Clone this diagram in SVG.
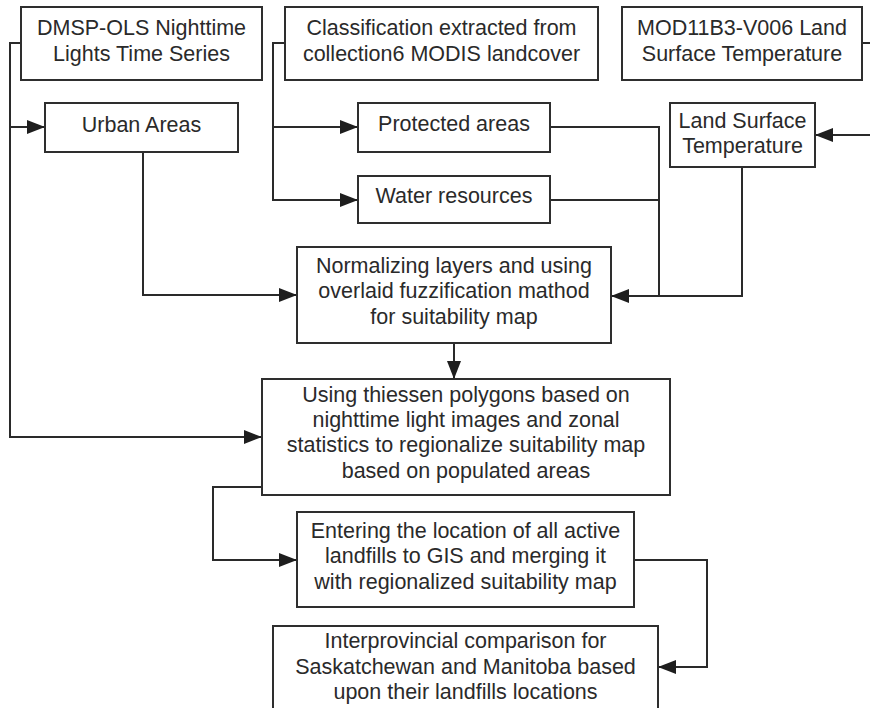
<svg xmlns="http://www.w3.org/2000/svg" width="870" height="708" viewBox="0 0 870 708">
  <style>
    .box { fill: #ffffff; stroke: #2e2e2e; stroke-width: 2; }
    .lbl { font-family: "Liberation Sans", Arial, sans-serif; font-size: 21.5px; fill: #2a2a2a; text-anchor: middle; }
    .wire { fill: none; stroke: #2a2a2a; stroke-width: 2; }
    .arrow { marker-end: url(#head); }
  </style>
  <defs>
    <marker id="head" markerUnits="userSpaceOnUse" markerWidth="18" markerHeight="14" refX="18" refY="7" orient="auto">
      <path d="M0,0 L18,7 L0,14 Z" fill="#1e1e1e"/>
    </marker>
  </defs>
  <rect width="870" height="708" fill="#ffffff"/>

  <!-- connectors -->
  <g id="connectors">
    <path class="wire arrow" d="M21,43 H10 V437 H262"/>
    <path class="wire arrow" d="M10,127 H45"/>
    <path class="wire arrow" d="M285,43 H273 V200 H358"/>
    <path class="wire arrow" d="M273,127 H358"/>
    <path class="wire" d="M862,43 H872"/>
    <path class="wire arrow" d="M872,135 H815"/>
    <path class="wire arrow" d="M143,152 V295 H297"/>
    <path class="wire arrow" d="M550,127 H659 V296 H611"/>
    <path class="wire" d="M550,200 H659"/>
    <path class="wire" d="M742,167 V296 H659"/>
    <path class="wire arrow" d="M454,343 V379"/>
    <path class="wire arrow" d="M262,487 H213 V560 H297"/>
    <path class="wire arrow" d="M634,560 H707 V667 H658"/>
  </g>

  <!-- source datasets -->
  <g id="dmsp-ols">
    <rect class="box" x="21" y="7" width="241" height="73"/>
    <text class="lbl" x="141.5" y="35">DMSP-OLS Nighttime</text>
    <text class="lbl" x="141.5" y="61">Lights Time Series</text>
  </g>
  <g id="modis-landcover">
    <rect class="box" x="285" y="7" width="313" height="73"/>
    <text class="lbl" x="441.5" y="35">Classification extracted from</text>
    <text class="lbl" x="441.5" y="61">collection6 MODIS landcover</text>
  </g>
  <g id="mod11b3">
    <rect class="box" x="622" y="7" width="240" height="73"/>
    <text class="lbl" x="742" y="35">MOD11B3-V006 Land</text>
    <text class="lbl" x="742" y="61">Surface Temperature</text>
  </g>

  <!-- derived layers -->
  <g id="urban-areas">
    <rect class="box" x="45" y="103" width="193" height="49"/>
    <text class="lbl" x="141.5" y="132">Urban Areas</text>
  </g>
  <g id="protected-areas">
    <rect class="box" x="358" y="103" width="192" height="49"/>
    <text class="lbl" x="454" y="131">Protected areas</text>
  </g>
  <g id="water-resources">
    <rect class="box" x="358" y="176" width="192" height="47"/>
    <text class="lbl" x="454" y="203">Water resources</text>
  </g>
  <g id="land-surface-temperature">
    <rect class="box" x="670" y="103" width="145" height="64"/>
    <text class="lbl" x="742.5" y="128">Land Surface</text>
    <text class="lbl" x="742.5" y="153">Temperature</text>
  </g>

  <!-- processing steps -->
  <g id="normalizing">
    <rect class="box" x="297" y="247" width="314" height="96"/>
    <text class="lbl" x="454" y="273">Normalizing layers and using</text>
    <text class="lbl" x="454" y="298">overlaid fuzzification mathod</text>
    <text class="lbl" x="454" y="324">for suitability map</text>
  </g>
  <g id="thiessen">
    <rect class="box" x="262" y="379" width="408" height="116"/>
    <text class="lbl" x="466" y="402">Using thiessen polygons based on</text>
    <text class="lbl" x="466" y="427">nighttime light images and zonal</text>
    <text class="lbl" x="466" y="452">statistics to regionalize suitability map</text>
    <text class="lbl" x="466" y="478">based on populated areas</text>
  </g>
  <g id="landfills-gis">
    <rect class="box" x="297" y="512" width="337" height="95"/>
    <text class="lbl" x="465.5" y="538">Entering the location of all active</text>
    <text class="lbl" x="465.5" y="563">landfills to GIS and merging it</text>
    <text class="lbl" x="465.5" y="589">with regionalized suitability map</text>
  </g>
  <g id="comparison">
    <rect class="box" x="273" y="626" width="385" height="100"/>
    <text class="lbl" x="465.5" y="648">Interprovincial comparison for</text>
    <text class="lbl" x="465.5" y="674">Saskatchewan and Manitoba based</text>
    <text class="lbl" x="465.5" y="699">upon their landfills locations</text>
  </g>
</svg>
